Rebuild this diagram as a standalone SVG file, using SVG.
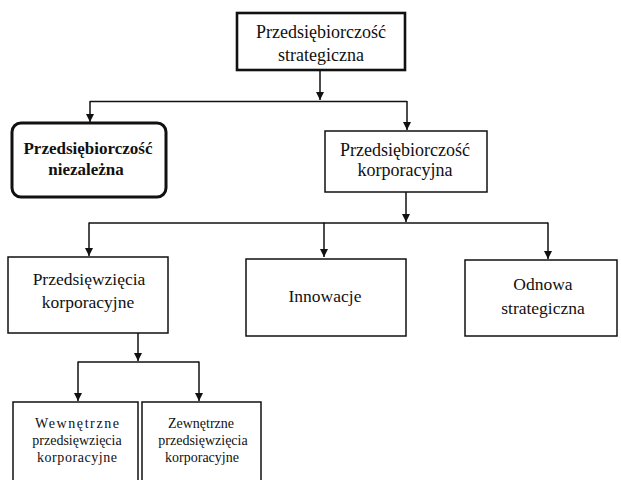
<svg xmlns="http://www.w3.org/2000/svg" width="621" height="480" viewBox="0 0 621 480">
  <defs>
    <marker id="arrow" viewBox="0 0 10 10" refX="10" refY="5" markerWidth="9" markerHeight="8" markerUnits="userSpaceOnUse" orient="auto">
      <path d="M0,0 L10,5 L0,10 Z" fill="#111"/>
    </marker>
    <style>
      .box { fill: #fff; stroke: #111; stroke-width: 1.5; }
      .thick { stroke-width: 2.6; }
      .bold { stroke-width: 3; }
      text { fill: #111; text-anchor: middle; font-family: "Liberation Serif", "Times New Roman", serif; }
      .l18 { font-size: 18px; }
      .l17 { font-size: 17.5px; }
      .l14 { font-size: 14px; }
      .b17 { font-size: 17px; font-weight: bold; }
      .con { fill: none; stroke: #111; stroke-width: 1.5; }
    </style>
  </defs>
  <rect width="621" height="480" fill="#fff"/>

  <!-- connectors -->
  <g id="connectors">
    <path class="con" d="M320,70 V100" marker-end="url(#arrow)"/>
    <path class="con" d="M90,101.5 H407"/>
    <path class="con" d="M90,101 V122" marker-end="url(#arrow)"/>
    <path class="con" d="M407,101 V130" marker-end="url(#arrow)"/>
    <path class="con" d="M406,192 V222" marker-end="url(#arrow)"/>
    <path class="con" d="M89,223 H548"/>
    <path class="con" d="M89,222.5 V256" marker-end="url(#arrow)"/>
    <path class="con" d="M324,222.5 V257" marker-end="url(#arrow)"/>
    <path class="con" d="M548,222.5 V259" marker-end="url(#arrow)"/>
    <path class="con" d="M138,333 V361" marker-end="url(#arrow)"/>
    <path class="con" d="M78,362 H199"/>
    <path class="con" d="M78,361.5 V401" marker-end="url(#arrow)"/>
    <path class="con" d="M199,361.5 V401" marker-end="url(#arrow)"/>
  </g>

  <g id="strategiczna-top">
    <rect class="box thick" x="237" y="13" width="168" height="57"/>
    <text class="l18" x="321" y="38">Przedsiębiorczość</text>
    <text class="l18" x="321" y="61">strategiczna</text>
  </g>

  <g id="niezalezna">
    <rect class="box bold" x="12" y="123" width="154" height="74" rx="9"/>
    <text class="b17" x="88" y="154">Przedsiębiorczość</text>
    <text class="b17" x="86" y="175">niezależna</text>
  </g>

  <g id="korporacyjna">
    <rect class="box" x="325" y="131" width="162" height="61"/>
    <text class="l18" x="405" y="156">Przedsiębiorczość</text>
    <text class="l18" x="405" y="176">korporacyjna</text>
  </g>

  <g id="przedsiewziecia">
    <rect class="box" x="8" y="257" width="160" height="76"/>
    <text class="l17" x="89" y="285">Przedsięwzięcia</text>
    <text class="l17" x="88" y="308">korporacyjne</text>
  </g>

  <g id="innowacje">
    <rect class="box" x="246" y="259" width="160" height="77"/>
    <text class="l17" x="325" y="302">Innowacje</text>
  </g>

  <g id="odnowa">
    <rect class="box" x="465" y="260" width="152" height="76"/>
    <text class="l17" x="543" y="290">Odnowa</text>
    <text class="l17" x="543" y="314">strategiczna</text>
  </g>

  <g id="wewnetrzne">
    <rect class="box" x="13" y="402" width="125" height="85"/>
    <text class="l14" x="77" y="428" textLength="84">Wewnętrzne</text>
    <text class="l14" x="77" y="445">przedsięwzięcia</text>
    <text class="l14" x="77" y="462" textLength="80">korporacyjne</text>
  </g>

  <g id="zewnetrzne">
    <rect class="box" x="142" y="402" width="119" height="85"/>
    <text class="l14" x="201" y="428">Zewnętrzne</text>
    <text class="l14" x="203" y="445">przedsięwzięcia</text>
    <text class="l14" x="202" y="462">korporacyjne</text>
  </g>
</svg>
